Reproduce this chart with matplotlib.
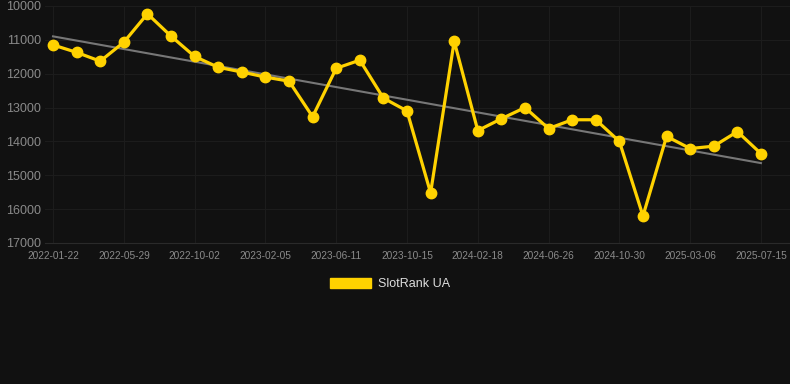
import numpy as np
import matplotlib
matplotlib.use("Agg")
import matplotlib.pyplot as plt
from matplotlib.patches import Patch

plt.rcParams['font.family'] = ['Liberation Sans', 'DejaVu Sans']

# rank per period (lower is better, axis inverted)
ranks = [11150, 11370, 11630, 11070, 10230, 10890, 11490, 11810, 11950, 12100,
         12220, 13270, 11840, 11600, 12720, 13100, 15520, 11040, 13680, 13330,
         13000, 13620, 13360, 13360, 14000, 16200, 13850, 14210, 14140, 13710,
         14360]
tick_labels = ["2022-01-22", "2022-05-29", "2022-10-02", "2023-02-05", "2023-06-11",
               "2023-10-15", "2024-02-18", "2024-06-26", "2024-10-30", "2025-03-06",
               "2025-07-15"]
y_ticks = [10000, 11000, 12000, 13000, 14000, 15000, 16000, 17000]

bg = "#111111"
gold = "#FFD200"

x = np.arange(len(ranks))
slope, icpt = np.polyfit(x, ranks, 1)

fig = plt.figure(figsize=(7.9, 3.84), dpi=100, facecolor=bg)
ax = fig.add_axes([45 / 790, (384 - 243) / 384, 745 / 790, 237 / 384], facecolor=bg)

ax.plot(x, slope * x + icpt, color="#777777", lw=1.5, zorder=2)
ax.plot(x, ranks, color=gold, lw=2.3, marker="o", ms=7.5, zorder=3)

ax.set_ylim(17000, 10000)
ax.set_xlim(-0.34, 31.23)
ax.set_yticks(y_ticks)
ax.set_xticks(x[::3])
ax.set_xticklabels(tick_labels)
ax.tick_params(axis="y", colors="#8a8a8a", labelsize=9, length=0, pad=3)
ax.tick_params(axis="x", colors="#8a8a8a", labelsize=7.3, length=0, pad=6)
ax.grid(True, color="#1c1c1c", lw=0.8)
for s in ["top", "right", "left"]:
    ax.spines[s].set_visible(False)
ax.spines["bottom"].set_color("#2a2a2a")

fig.legend(handles=[Patch(facecolor=gold, edgecolor=gold, label="SlotRank UA")],
           loc="center", bbox_to_anchor=(390 / 790, 1 - 284 / 384), frameon=False,
           fontsize=9, labelcolor="#dddddd", handlelength=3.3, handleheight=0.95,
           handletextpad=0.5)

fig.savefig("out.png", dpi=100, facecolor=bg)
